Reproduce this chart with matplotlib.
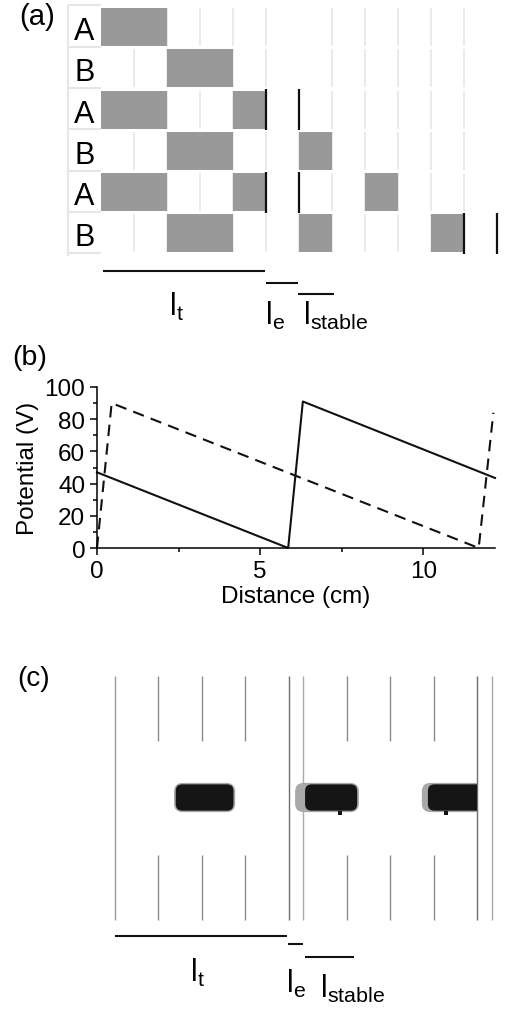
import matplotlib
matplotlib.use('Agg')
import matplotlib.pyplot as plt
from matplotlib.patches import FancyBboxPatch, Rectangle

plt.rcParams['font.family'] = ['Liberation Sans', 'DejaVu Sans']

W, H = 505, 1012

# (a) electrode sequence, rows top to bottom, bars as (start column, width)
row_labels = ['A', 'B', 'A', 'B', 'A', 'B']
row_bars = [
    [(0, 2)],
    [(2, 2)],
    [(0, 2), (4, 1)],
    [(2, 2), (6, 1)],
    [(0, 2), (4, 1), (8, 1)],
    [(2, 2), (6, 1), (10, 1)],
]
row_marks = [[], [], [5, 6], [], [5, 6], [11, 12]]
grid_cols = list(range(1, 12))
grid_skip = [(0, 6), (1, 6)]
a_span_start = [0.06, 5.0, 5.97]
a_span_end = [4.97, 5.97, 7.06]
span_subs = ['t', 'e', 'stable']

# (b) potential along the channel
dist_solid = [0, 5.86, 6.31, 12.2]
pot_solid = [47, 0, 91, 43.5]
dist_dash = [0, 0.45, 11.7, 12.15]
pot_dash = [0, 90, 0, 84]

# (c) electrode lines and particle bands
c_full = [0, 4, 4.34, 8.34, 8.68]
c_full_grey = ['#999999', '#6e6e6e', '#aaaaaa', '#6e6e6e', '#aaaaaa']
c_short = [1, 2, 3, 5.34, 6.34, 7.34]
blob_x0 = [1.40, 4.38, 7.21]
blob_x1 = [2.73, 5.58, 8.5]
halo_x0 = [1.36, 4.15, 7.07]
halo_x1 = [2.77, 5.62, 8.5]
stray_x = [5.18, 7.63]
stray_y = [0.44, 0.44]
c_span_start = [0.0, 3.99, 4.38]
c_span_end = [3.97, 4.33, 5.51]


def px_axes(fig, x0, y0, x1, y1):
    return fig.add_axes([x0 / W, 1 - y1 / H, (x1 - x0) / W, (y1 - y0) / H])


fig = plt.figure(figsize=(W / 100, H / 100), dpi=100)

# ---------------- (a)
axa = px_axes(fig, 60, 0, 505, 335)
axa.set_xlim(-41 / 33, 404 / 33)
axa.set_ylim(327.7 / 41.3, -7.3 / 41.3)
axa.axis('off')

for i, lab in enumerate(row_labels):
    axa.text(-0.5, i + 0.79, lab, ha='center', va='baseline', fontsize=22)
    for c in grid_cols:
        if (i, c) in grid_skip:
            continue
        axa.vlines(c, i + 0.04, i + 0.96, color='#e6e6e6', lw=1.2, zorder=1)
    for left, w in row_bars[i]:
        axa.barh(i + 0.5, w, left=left, height=0.92, color='#999999',
                 linewidth=0, zorder=2)
    for c in row_marks[i]:
        axa.vlines(c, i, i + 1, color='#111111', lw=1.6, zorder=3)
axa.vlines(-1, -0.02, 6.04, color='#e6e6e6', lw=1.5, zorder=1)
axa.hlines([r - 0.02 for r in range(7)], -1, 0, color='#e6e6e6', lw=1.5, zorder=1)

a_span_y = [6.41, 6.70, 6.96]
a_lab_x = [2.3, 5.26, 7.12]
a_lab_y = [7.47, 7.69, 7.69]
for k in range(3):
    axa.hlines(a_span_y[k], a_span_start[k], a_span_end[k], color='#111111', lw=1.5)
    axa.text(a_lab_x[k], a_lab_y[k], r'$\mathregular{l_{%s}}$' % span_subs[k],
             ha='center', va='baseline', fontsize=22)

fig.text(19 / W, 1 - 25 / H, '(a)', fontsize=21, va='baseline')

# ---------------- (b)
axb = px_axes(fig, 97, 388, 495, 549)
axb.plot(dist_solid, pot_solid, color='#111111', lw=1.5, clip_on=False)
axb.plot(dist_dash, pot_dash, color='#111111', lw=1.5, dashes=(5.5, 3.5), clip_on=False)
axb.set_xlim(0, 12.2)
axb.set_ylim(0, 100)
axb.spines['top'].set_visible(False)
axb.spines['right'].set_visible(False)
for s in ['left', 'bottom']:
    axb.spines[s].set_linewidth(1.1)
axb.set_xticks([0, 5, 10])
axb.set_xticks([2.5, 7.5], minor=True)
axb.set_yticks([0, 20, 40, 60, 80, 100])
axb.set_yticks([10, 30, 50, 70, 90], minor=True)
axb.tick_params(which='major', direction='out', length=5, width=1.1, labelsize=17.5, pad=3.5)
axb.tick_params(which='minor', direction='out', length=3, width=1.1)
axb.set_xlabel('Distance (cm)', fontsize=17.5, labelpad=2)
axb.set_ylabel('Potential (V)', fontsize=17.5, labelpad=4)

fig.text(12 / W, 1 - 365 / H, '(b)', fontsize=20.5, va='baseline')

# ---------------- (c)
axc = px_axes(fig, 100, 660, 505, 1012)
axc.set_xlim(-15 / 43.4, 390 / 43.4)
axc.set_ylim(-91 / 244, 261 / 244)
axc.axis('off')

axc.vlines(c_full, 0, 1, colors=c_full_grey, lw=1.0)
axc.vlines(c_short, 0.734, 1, color='#8a8a8a', lw=1.0)
axc.vlines(c_short, 0, 0.266, color='#8a8a8a', lw=1.0)

clip = Rectangle((-1, -1), 8.34 + 1, 3, transform=axc.transData)
asp = 43.4 / 244
for k in range(3):
    halo = FancyBboxPatch((halo_x0[k], 0.442), halo_x1[k] - halo_x0[k], 0.12,
                          boxstyle='round,pad=0,rounding_size=0.2',
                          mutation_aspect=asp, fc='#a8a8a8', ec='none', zorder=2)
    blob = FancyBboxPatch((blob_x0[k], 0.448), blob_x1[k] - blob_x0[k], 0.108,
                          boxstyle='round,pad=0,rounding_size=0.15',
                          mutation_aspect=asp, fc='#151515', ec='none', zorder=3)
    for p in (halo, blob):
        axc.add_patch(p)
        p.set_clip_path(clip)
axc.scatter(stray_x, stray_y, s=5, marker='s', color='#111111', lw=0, zorder=4)

c_span_y = [-0.066, -0.098, -0.152]
c_lab_x = [1.89, 4.17, 5.48]
c_lab_y = [-0.25, -0.295, -0.316]
for k in range(3):
    axc.hlines(c_span_y[k], c_span_start[k], c_span_end[k], color='#111111', lw=1.5)
    axc.text(c_lab_x[k], c_lab_y[k], r'$\mathregular{l_{%s}}$' % span_subs[k],
             ha='center', va='baseline', fontsize=22)

fig.text(17 / W, 1 - 686 / H, '(c)', fontsize=20, va='baseline')

fig.savefig('out.png', dpi=100)
